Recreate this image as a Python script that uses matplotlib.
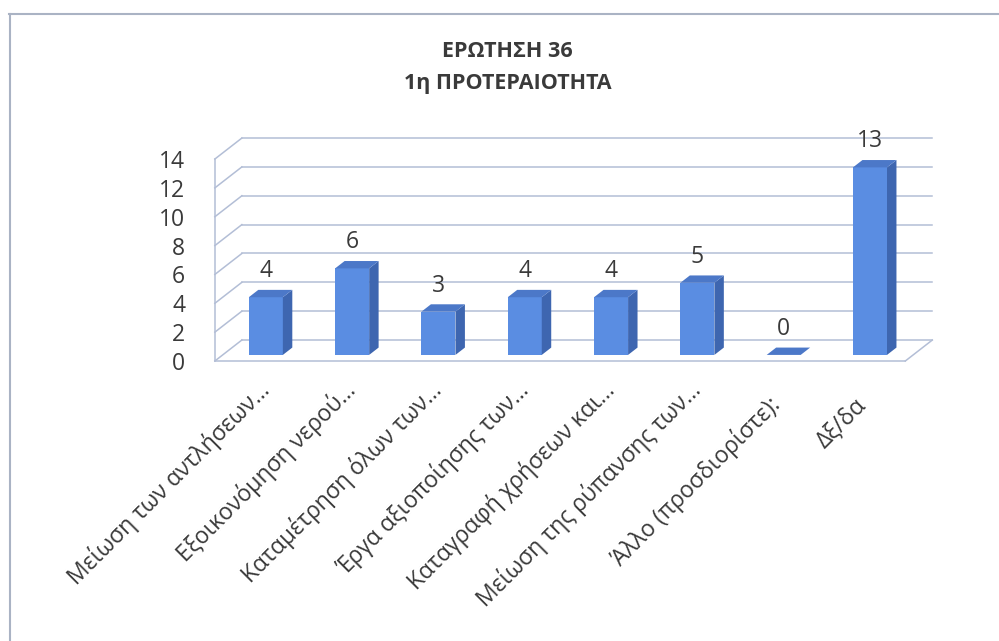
import numpy as np
import matplotlib.pyplot as plt
from matplotlib.patches import Polygon
from matplotlib.lines import Line2D
from matplotlib.transforms import ScaledTranslation

plt.rcParams['font.family'] = ['Open Sans', 'DejaVu Sans']

categories = [
    "Μείωση των αντλήσεων…",
    "Εξοικονόμηση νερού…",
    "Καταμέτρηση όλων των…",
    "Έργα αξιοποίησης των…",
    "Καταγραφή χρήσεων και…",
    "Μείωση της ρύπανσης των…",
    "Άλλο (προσδιορίστε):",
    "Δξ/δα",
]
values = [4, 6, 3, 4, 4, 5, 0, 13]
yticks = [0, 2, 4, 6, 8, 10, 12, 14]
title_lines = ["ΕΡΩΤΗΣΗ 36", "1η ΠΡΟΤΕΡΑΙΟΤΗΤΑ"]

text_c = '#3a3a3a'
grid_c = '#b3bed6'
front_c = '#5a8de2'
side_c = '#3e66b0'
top_c = '#4c78c8'

# depth of the 3d box in data units (x per full depth, y per full depth)
DX, DY = 0.313, 1.455
z0, z1 = 0.29, 0.64      # bar depth band
half_w = 0.197

fig = plt.figure(figsize=(9.99, 6.41), dpi=100)
ax = fig.add_axes([0.1952, 0.4143, 0.7715, 0.4051])
ax.set_xlim(-0.73, 8.2)
ax.set_ylim(-1, 17)
for s in ax.spines.values():
    s.set_visible(False)

n = len(categories)
x = np.arange(n)
xl, xr = -0.5, n - 0.5
ymax = yticks[-1]

# walls / gridlines
for v in yticks:
    ax.plot([xl + DX, xr + DX], [v + DY, v + DY], color=grid_c, lw=1.1, zorder=1)
    ax.plot([xl, xl + DX], [v, v + DY], color=grid_c, lw=1.1, zorder=1)
ax.plot([xl, xl], [0, ymax], color=grid_c, lw=1.1, zorder=1)
ax.plot([xl, xr], [0, 0], color=grid_c, lw=1.1, zorder=1)
ax.plot([xr, xr + DX], [0, DY], color=grid_c, lw=1.1, zorder=1)

# bars: front faces with ax.bar, sides and tops as polygons
xf = x + z0 * DX
yb = z0 * DY
ddx = (z1 - z0) * DX
ddy = (z1 - z0) * DY
ax.bar(xf, values, width=2 * half_w, bottom=yb, color=front_c, zorder=3)
for xi, v in zip(xf, values):
    top = yb + v
    side = [(xi + half_w, yb), (xi + half_w + ddx, yb + ddy),
            (xi + half_w + ddx, top + ddy), (xi + half_w, top)]
    lid = [(xi - half_w, top), (xi + half_w, top),
           (xi + half_w + ddx, top + ddy), (xi - half_w + ddx, top + ddy)]
    ax.add_patch(Polygon(side, closed=True, fc=side_c, ec='none', zorder=3))
    ax.add_patch(Polygon(lid, closed=True, fc=top_c, ec='none', zorder=3))
    ax.text(xi, top + 1.8, str(v), ha='center', va='center',
            fontsize=16.5, color=text_c, zorder=4)

ax.set_yticks(yticks)
ax.set_yticklabels([str(t) for t in yticks], fontsize=16.5, color=text_c)
ax.set_xticks(xf)
ax.set_xticklabels(categories, rotation=45, ha='right', va='center',
                   rotation_mode='anchor', fontsize=16.5, color=text_c)
ax.tick_params(axis='y', length=0, pad=7)
ax.tick_params(axis='x', length=0, pad=8)

# labels that were not truncated sit a little lower in the original
for lab in ax.get_xticklabels():
    if not lab.get_text().endswith('…'):
        lab.set_transform(lab.get_transform() +
                          ScaledTranslation(-0.07, -0.15, fig.dpi_scale_trans))

fig.text(0.508, 0.920, title_lines[0], ha='center', va='center',
         fontsize=15.5, fontweight='bold', color=text_c)
fig.text(0.508, 0.869, title_lines[1], ha='center', va='center',
         fontsize=15.5, fontweight='bold', color=text_c)

# outer chart frame (top and left edges visible)
fig.add_artist(Line2D([0.009, 1.0], [0.978, 0.978], color='#aab3c4', lw=1.5))
fig.add_artist(Line2D([0.010, 0.010], [0.0, 0.978], color='#aab3c4', lw=1.5))

fig.savefig('out.png', dpi=100)
